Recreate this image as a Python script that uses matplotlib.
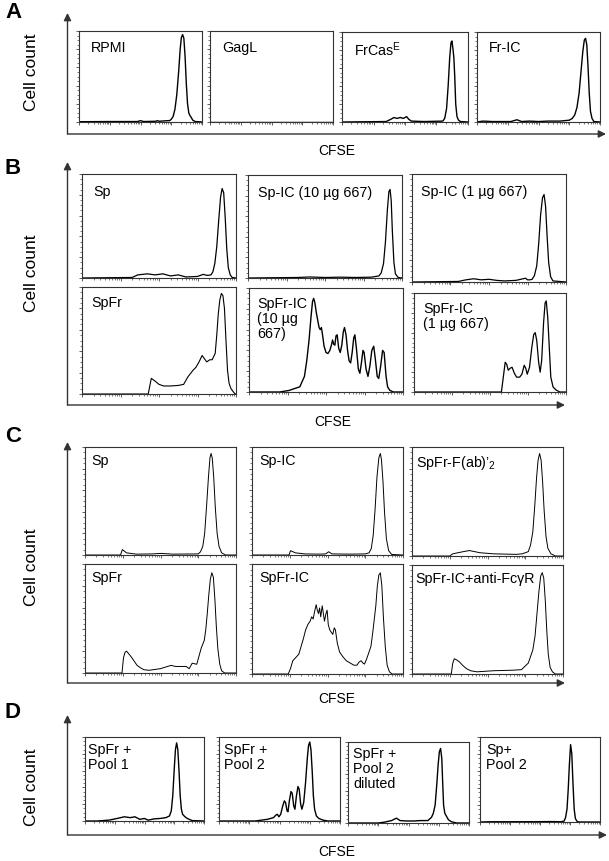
"""Histogramas de CFSE (paineis A-D) em grade de caixas."""

import numpy as np
import matplotlib

matplotlib.use("Agg")
import matplotlib.pyplot as plt
from matplotlib.ticker import MultipleLocator, LogLocator, NullFormatter

plt.rcParams["font.family"] = ["Liberation Sans", "DejaVu Sans"]
plt.rcParams["mathtext.fontset"] = "custom"
plt.rcParams["mathtext.rm"] = "Liberation Sans"
plt.rcParams["mathtext.it"] = "Liberation Sans:italic"

W, H = 609, 862

# --- dados: posicao em decadas de CFSE (log10) e contagem relativa (%) ---
# painel A
RPMI_X = [0, 1.0, 1.9, 2.0, 2.1, 2.5, 2.55, 2.6, 2.9, 2.95, 3.0, 3.06, 3.12, 3.18,
          3.24, 3.29, 3.33, 3.37, 3.41, 3.45, 3.49, 3.53, 3.57, 3.61, 3.65, 3.7,
          3.78, 4.0]
RPMI_Y = [0.3, 0.5, 0.5, 1.5, 0.5, 0.8, 1.5, 0.8, 1.5, 1.5, 3, 6, 14, 30,
          55, 80, 93, 96, 92, 72, 42, 20, 10, 7, 5, 2,
          0.5, 0]
GAGL_X = [0, 4.0]
GAGL_Y = [0, 0]
FRCAS_X = [0, 1.4, 1.55, 1.65, 1.75, 1.85, 1.95, 2.05, 2.12, 2.2, 2.6, 3.2, 3.26,
           3.32, 3.37, 3.42, 3.46, 3.49, 3.52, 3.55, 3.58, 3.61, 3.65, 3.7, 3.76,
           4.0]
FRCAS_Y = [0, 0.5, 3, 5, 4, 5, 4, 6, 3, 1, 0.5, 1, 4,
           15, 40, 72, 88, 90, 82, 72, 50, 20, 6, 2, 0.5,
           0]
FRIC_X = [0, 0.2, 0.5, 1.1, 1.3, 1.45, 1.7, 2.0, 2.3, 2.7, 3.0, 3.1, 3.18, 3.25,
          3.32, 3.38, 3.44, 3.49, 3.53, 3.57, 3.61, 3.65, 3.69, 3.74, 3.8, 4.0]
FRIC_Y = [0, 1, 0.5, 0.5, 2.5, 0.5, 1, 0.5, 1, 1, 2, 4, 8, 16,
          32, 55, 78, 91, 93, 86, 62, 32, 12, 4, 0.5, 0]

# painel B
B_SP_X = [0, 1.3, 1.45, 1.7, 1.9, 2.1, 2.3, 2.5, 2.7, 3.0, 3.15, 3.25, 3.35, 3.4,
          3.45, 3.5, 3.55, 3.6, 3.64, 3.68, 3.72, 3.76, 3.8, 3.85, 3.9, 4.0]
B_SP_Y = [0, 0.5, 3, 4, 3, 4, 2, 3, 1, 1.5, 3.5, 2.5, 3, 6,
          14, 30, 55, 78, 86, 82, 58, 28, 10, 3, 0.5, 0]
B_SPIC10_X = [0, 1.3, 1.6, 2.0, 2.4, 2.8, 3.2, 3.4, 3.46, 3.52, 3.57, 3.62, 3.66,
              3.69, 3.72, 3.75, 3.79, 3.83, 3.9, 4.0]
B_SPIC10_Y = [0, 0.5, 1, 0.5, 0.8, 0.5, 0.8, 2, 5, 14, 35, 66, 84,
              86, 75, 45, 15, 4, 0.5, 0]
B_SPIC1_X = [0, 1.2, 1.4, 1.6, 1.8, 2.0, 2.2, 2.4, 2.7, 2.95, 3.0, 3.06, 3.12, 3.18,
             3.24, 3.29, 3.34, 3.39, 3.43, 3.47, 3.51, 3.55, 3.6, 3.66, 4.0]
B_SPIC1_Y = [0, 0.5, 2, 3, 2, 2.5, 1.5, 1, 1.5, 3.5, 2, 2, 2.5, 6,
             15, 35, 62, 78, 81, 70, 42, 18, 5, 1, 0]
B_SPFR_X = [0, 1.72, 1.8, 1.9, 2.0, 2.12, 2.3, 2.5, 2.64, 2.75, 2.88, 2.96, 3.04,
            3.12, 3.24, 3.32, 3.38, 3.46, 3.5, 3.54, 3.58, 3.62, 3.66, 3.7, 3.74,
            3.78, 3.82, 3.87, 3.93, 3.98, 4.0]
B_SPFR_Y = [0, 0, 14.6, 12, 9, 7.5, 7.5, 8, 9, 16, 22, 25, 30,
            36, 30, 32, 32, 38, 55, 75, 88, 94, 92, 80, 50,
            22, 10, 5, 2, 0, 0]
B_SPFRIC10_X = [0, 0.8, 1.04, 1.32, 1.44, 1.5, 1.56, 1.61, 1.65, 1.68, 1.71, 1.75,
                1.79, 1.82, 1.85, 1.88, 1.91, 1.95, 2.0, 2.05, 2.1, 2.14, 2.17,
                2.2, 2.23, 2.26, 2.29, 2.33, 2.37, 2.41, 2.45, 2.48, 2.52, 2.56,
                2.6, 2.64, 2.68, 2.72, 2.75, 2.79, 2.84, 2.88, 2.92, 2.96, 2.99,
                3.04, 3.09, 3.14, 3.19, 3.24, 3.28, 3.33, 3.37, 3.42, 3.47, 3.51,
                3.56, 3.6, 3.66, 3.75, 4.0]
B_SPFRIC10_Y = [0, 0, 1.5, 5, 15, 30, 50, 72, 87, 90, 86, 76,
                68, 62, 60, 62, 55, 44, 38, 37, 40, 45, 50,
                46, 45, 54, 55, 42, 38, 45, 58, 62, 55, 40,
                30, 28, 38, 52, 55, 42, 22, 18, 28, 40, 38,
                22, 15, 25, 40, 44, 32, 15, 13, 25, 40, 38,
                15, 5, 1.5, 0, 0]
B_SPFRIC1_X = [0, 2.3, 2.35, 2.4, 2.44, 2.48, 2.53, 2.58, 2.64, 2.7, 2.78, 2.84,
               2.9, 2.94, 2.98, 3.04, 3.1, 3.15, 3.19, 3.23, 3.28, 3.32, 3.36,
               3.41, 3.45, 3.48, 3.52, 3.56, 3.6, 3.66, 3.74, 3.84, 4.0]
B_SPFRIC1_Y = [0, 0, 15, 30, 28, 22, 24, 25, 19, 15, 15, 18,
               27, 24, 18, 25, 45, 58, 60, 52, 30, 20, 32,
               70, 90, 92, 75, 45, 15, 5, 2, 0, 0]

# painel C
C_SP_X = [0, 0.94, 0.99, 1.1, 1.36, 1.8, 2.0, 2.32, 3.0, 3.06, 3.12, 3.17, 3.22,
          3.27, 3.31, 3.34, 3.37, 3.41, 3.45, 3.5, 3.55, 3.62, 3.72, 4.0]
C_SP_Y = [0, 0, 5, 2, 0.8, 1, 1.5, 0.8, 1, 3, 8, 20, 45,
          72, 90, 94, 90, 72, 45, 20, 8, 2, 0, 0]
C_SPIC_X = [0, 0.98, 1.02, 1.15, 1.4, 1.8, 1.95, 2.03, 2.12, 2.6, 3.0, 3.1, 3.16,
            3.21, 3.26, 3.31, 3.36, 3.4, 3.43, 3.47, 3.51, 3.56, 3.62, 3.7, 4.0]
C_SPIC_Y = [0, 0, 4, 2, 1, 0.8, 1, 3, 1, 0.8, 1, 2, 6,
            18, 42, 72, 90, 94, 88, 68, 40, 15, 4, 0.5, 0]
C_FAB_X = [0, 1.0, 1.08, 1.36, 1.52, 1.8, 2.16, 2.76, 2.92, 3.08, 3.14, 3.2, 3.25,
           3.3, 3.34, 3.38, 3.42, 3.46, 3.5, 3.55, 3.6, 3.68, 3.8, 4.0]
C_FAB_Y = [0, 0, 2, 4, 5, 3, 2, 1.5, 2, 4, 10, 22, 45,
           72, 88, 94, 88, 68, 42, 18, 7, 2, 0, 0]
C_SPFR_X = [0, 0.98, 1.02, 1.06, 1.1, 1.15, 1.22, 1.3, 1.38, 1.46, 1.56, 1.7, 2.0,
            2.28, 2.4, 2.68, 2.76, 2.84, 2.96, 3.08, 3.16, 3.2, 3.24, 3.28, 3.32,
            3.36, 3.4, 3.44, 3.48, 3.52, 3.57, 3.62, 3.7, 4.0]
C_SPFR_Y = [0, 0, 14, 19, 20, 18, 15, 11, 7, 5, 3, 2.5, 4,
            7, 6, 6, 4, 9, 8, 23, 30, 40, 55, 72, 86,
            92, 88, 68, 42, 22, 8, 2, 0, 0]
C_SPFRIC_X = [0, 0.96, 1.02, 1.08, 1.16, 1.24, 1.3, 1.36, 1.42, 1.48, 1.54, 1.58,
              1.62, 1.66, 1.7, 1.73, 1.76, 1.79, 1.82, 1.86, 1.89, 1.92, 1.96,
              1.99, 2.02, 2.06, 2.1, 2.14, 2.18, 2.21, 2.26, 2.32, 2.4, 2.5, 2.6,
              2.7, 2.78, 2.84, 2.89, 2.94, 2.98, 3.04, 3.1, 3.15, 3.2, 3.24,
              3.28, 3.32, 3.36, 3.4, 3.44, 3.48, 3.53, 3.58, 3.64, 3.71, 4.0]
C_SPFRIC_Y = [0, 0, 5, 12, 15, 18, 25, 32, 40, 45, 48, 52,
              50, 57, 63, 58, 55, 60, 52, 62, 55, 48, 55,
              58, 45, 40, 38, 36, 42, 40, 28, 20, 16, 12, 10,
              8, 8, 11, 12, 10, 9, 14, 20, 25, 38, 50,
              62, 80, 90, 92, 80, 52, 25, 8, 2, 0, 0]
C_FCGR_X = [0, 1.04, 1.08, 1.12, 1.18, 1.26, 1.34, 1.44, 1.55, 1.72, 2.16, 2.68,
            2.9, 3.08, 3.2, 3.26, 3.31, 3.36, 3.41, 3.45, 3.49, 3.53, 3.57, 3.61,
            3.66, 3.72, 3.8, 4.0]
C_FCGR_Y = [0, 0, 10, 14, 13, 11, 8, 5, 3, 2, 3, 3.5,
            4, 10, 22, 35, 55, 75, 90, 93, 88, 68, 40, 18,
            6, 2, 0, 0]

# painel D
D_POOL1_X = [0, 0.4, 0.8, 1.08, 1.32, 1.52, 1.68, 1.84, 2.0, 2.12, 2.32, 2.52,
             2.72, 2.84, 2.9, 2.95, 3.0, 3.04, 3.08, 3.12, 3.16, 3.2, 3.24, 3.28,
             3.36, 3.44, 3.6, 4.0]
D_POOL1_Y = [0, 0, 1, 3, 5, 4, 5, 2, 3, 1, 2.5, 3,
             4, 6, 12, 30, 62, 85, 93, 85, 60, 30, 14, 8,
             5, 3, 0.5, 0]
D_POOL2_X = [0, 1.2, 1.4, 1.6, 1.8, 1.88, 1.93, 1.98, 2.04, 2.1, 2.16, 2.2, 2.25,
             2.28, 2.33, 2.38, 2.42, 2.47, 2.51, 2.56, 2.61, 2.65, 2.7, 2.74,
             2.8, 2.86, 2.92, 2.96, 3.0, 3.04, 3.08, 3.12, 3.16, 3.22, 3.3,
             3.44, 3.6, 4.0]
D_POOL2_Y = [0, 0, 1, 2, 4, 7, 8, 5, 8, 17, 24, 22, 12,
             11, 25, 35, 33, 18, 14, 30, 41, 38, 20, 14,
             22, 45, 75, 90, 94, 85, 60, 30, 14, 6, 3,
             1, 0, 0]
D_DIL_X = [0, 1.0, 1.2, 1.44, 1.6, 1.72, 1.92, 2.2, 2.4, 2.64, 2.76, 2.82, 2.88,
           2.93, 2.98, 3.02, 3.06, 3.1, 3.13, 3.16, 3.2, 3.26, 3.32, 3.42, 3.6,
           4.0]
D_DIL_Y = [0, 0, 1, 3, 6, 3, 2.5, 2.5, 3, 3, 7, 12, 22,
           45, 72, 88, 92, 80, 50, 22, 12, 8, 4, 1.5, 0,
           0]
D_SP_X = [0, 0.4, 1.5, 2.4, 2.7, 2.8, 2.85, 2.9, 2.94, 2.98, 3.02, 3.06, 3.1,
          3.14, 3.18, 3.24, 3.3, 4.0]
D_SP_Y = [0, 0.3, 0.3, 0.5, 0.3, 1, 5, 15, 38, 68, 91, 80, 45,
          15, 4, 0.5, 0, 0]

# caixas: (x0, y0, x1, y1) em pixels, rotulo, x, y, espessura, margem do rotulo
PANELS = [
    ((79, 32, 202, 123), "RPMI", RPMI_X, RPMI_Y, 1.0, (12, 9)),
    ((210, 32, 333, 123), "GagL", GAGL_X, GAGL_Y, 1.0, (12, 9)),
    ((342, 33, 468, 123), "FrCas$^{\\mathregular{E}}$", FRCAS_X, FRCAS_Y, 1.0, (12, 7)),
    ((477, 33, 600, 123), "Fr-IC", FRIC_X, FRIC_Y, 1.0, (12, 8)),
    ((82, 175, 236, 279), "Sp", B_SP_X, B_SP_Y, 0.9, (11, 10)),
    ((248, 176, 402, 279), "Sp-IC (10 µg 667)", B_SPIC10_X, B_SPIC10_Y, 0.9, (10, 10)),
    ((412, 175, 566, 283), "Sp-IC (1 µg 667)", B_SPIC1_X, B_SPIC1_Y, 0.9, (9, 10)),
    ((82, 288, 236, 395), "SpFr", B_SPFR_X, B_SPFR_Y, 0.8, (9, 8)),
    ((249, 289, 403, 393), "SpFr-IC\n(10 µg\n667)", B_SPFRIC10_X, B_SPFRIC10_Y, 1.0, (8, 8)),
    ((414, 294, 566, 393), "SpFr-IC\n(1 µg 667)", B_SPFRIC1_X, B_SPFRIC1_Y, 0.9, (9, 8)),
    ((85, 448, 236, 556), "Sp", C_SP_X, C_SP_Y, 0.7, (6, 6)),
    ((252, 448, 403, 556), "Sp-IC", C_SPIC_X, C_SPIC_Y, 0.7, (7, 6)),
    ((412, 448, 563, 557), "SpFr-F(ab)’$_{\\mathregular{2}}$", C_FAB_X, C_FAB_Y, 0.7, (4, 6)),
    ((85, 565, 236, 674), "SpFr", C_SPFR_X, C_SPFR_Y, 0.7, (6, 6)),
    ((252, 565, 403, 675), "SpFr-IC", C_SPFRIC_X, C_SPFRIC_Y, 0.7, (7, 6)),
    ((412, 566, 563, 675), "SpFr-IC+anti-FcγR", C_FCGR_X, C_FCGR_Y, 0.7, (3, 6)),
    ((85, 738, 204, 822), "SpFr +\nPool 1", D_POOL1_X, D_POOL1_Y, 1.0, (3, 5)),
    ((219, 738, 340, 822), "SpFr +\nPool 2", D_POOL2_X, D_POOL2_Y, 1.0, (5, 5)),
    ((348, 743, 469, 824), "SpFr +\nPool 2\ndiluted", D_DIL_X, D_DIL_Y, 1.0, (5, 4)),
    ((480, 738, 600, 823), "Sp+\nPool 2", D_SP_X, D_SP_Y, 1.0, (6, 5)),
]

# eixos grandes com seta: (x do eixo y, y do eixo x, topo da seta, ponta da seta x)
AXES_ARROWS = [(67.5, 135, 14, 606), (67.5, 406, 163, 565),
               (67.5, 684, 443, 565), (67.5, 836, 716, 607)]
LETTERS = [("A", 13, 12), ("B", 13, 168), ("C", 13, 437), ("D", 13, 713)]
YLABELS = [72, 273, 567, 787]
XLABELS = [(337, 151), (333, 422), (337, 699), (337, 852)]


def _draw_box(fig, box, label, xs, ys, lw, pad):
    x0, y0, x1, y1 = box
    ax = fig.add_axes([x0 / W, 1 - y1 / H, (x1 - x0) / W, (y1 - y0) / H])
    ax.set_zorder(2)
    ax.plot(10 ** np.asarray(xs, float), ys, color="black", lw=lw)
    ax.set_xscale("log")
    ax.set_xlim(1, 1e4)
    ax.set_ylim(0, 100)
    ax.xaxis.set_major_locator(LogLocator(base=10, numticks=10))
    ax.xaxis.set_minor_locator(LogLocator(base=10, subs=np.arange(2, 10), numticks=10))
    ax.yaxis.set_major_locator(MultipleLocator(20))
    ax.yaxis.set_minor_locator(MultipleLocator(5))
    ax.xaxis.set_major_formatter(NullFormatter())
    ax.xaxis.set_minor_formatter(NullFormatter())
    ax.yaxis.set_major_formatter(NullFormatter())
    ax.tick_params(which="major", length=2.5, width=0.6, color="#444", direction="out")
    ax.tick_params(which="minor", length=1.3, width=0.5, color="#444", direction="out")
    for s in ax.spines.values():
        s.set_color("#333")
        s.set_linewidth(0.8)
    bw, bh = x1 - x0, y1 - y0
    ax.text(pad[0] / bw, 1 - pad[1] / bh, label, transform=ax.transAxes,
            ha="left", va="top", fontsize=10.3, linespacing=1.1)
    return ax


fig = plt.figure(figsize=(W / 100, H / 100), dpi=100)

# camada de fundo em coordenadas de pixel
ov = fig.add_axes([0, 0, 1, 1])
ov.set_xlim(0, W)
ov.set_ylim(H, 0)
ov.axis("off")
ov.set_zorder(1)

for xa, ya, ytop, xtip in AXES_ARROWS:
    arrow = dict(arrowstyle="-|>", color="#333", lw=1.0, mutation_scale=11,
                 shrinkA=0, shrinkB=0)
    ov.annotate("", xy=(xa, ytop), xytext=(xa, ya), arrowprops=arrow)
    ov.annotate("", xy=(xtip, ya), xytext=(xa, ya), arrowprops=arrow)

for letter, x, y in LETTERS:
    ov.text(x, y, letter, fontsize=16, fontweight="bold", ha="center", va="center")
for y in YLABELS:
    ov.text(32, y, "Cell count", fontsize=12.5, rotation=90, ha="center", va="center")
for x, y in XLABELS:
    ov.text(x, y, "CFSE", fontsize=10, ha="center", va="center")

for box, label, xs, ys, lw, pad in PANELS:
    _draw_box(fig, box, label, xs, ys, lw, pad)

fig.savefig("out.png", dpi=100)
